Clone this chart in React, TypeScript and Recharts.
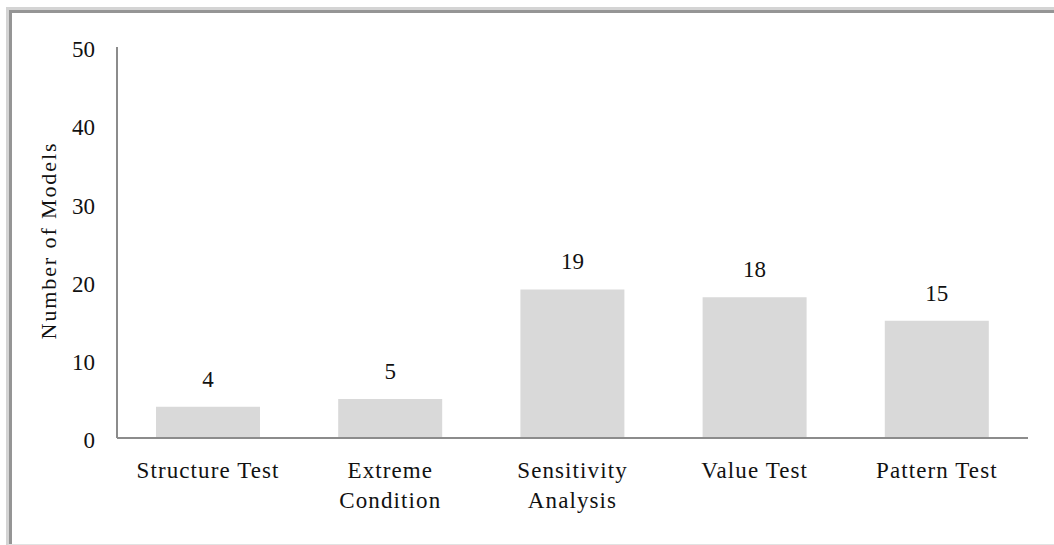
import { Bar, BarChart, LabelList, XAxis, YAxis } from "recharts";

const categories = ["Structure Test", "Extreme\nCondition", "Sensitivity\nAnalysis", "Value Test", "Pattern Test"];
const modelCounts = [4, 5, 19, 18, 15];
const yTicks = [0, 10, 20, 30, 40, 50];

const rows = categories.map((name, i) => ({ name, count: modelCounts[i] }));

const FONT = '"Liberation Serif", "Times New Roman", serif';
const AXIS = "#8c8c8c";

function CategoryTick({ x, y, payload }: { x: number; y: number; payload: { value: string } }) {
  const lines = String(payload.value).split("\n");
  return (
    <text x={x} y={y} textAnchor="middle" fill="#111" fontFamily={FONT} fontSize={23} letterSpacing={1.1}>
      {lines.map((ln, i) => (
        <tspan key={i} x={x} dy={i === 0 ? 40 : 30}>{ln}</tspan>
      ))}
    </text>
  );
}

export default function App() {
  return (
    <div style={{ position: "fixed", left: 0, top: 0, width: 1054, height: 545, background: "#fff", overflow: "hidden" }}>
      {/* picture frame, light then dark band on top/left */}
      <div style={{ position: "absolute", left: 6, top: 7, width: 1070, height: 534, borderLeft: "3px solid #d4d4d4", borderTop: "3px solid #d4d4d4", borderBottom: "2px solid #e2e2e2" }}>
        <div style={{ position: "absolute", left: 0, top: 0, right: 0, bottom: 0, borderLeft: "3px solid #959595", borderTop: "3px solid #959595" }} />
      </div>
      <div style={{ position: "absolute", left: 0, top: 0 }}>
        <BarChart width={1054} height={545} data={rows} margin={{ top: 47, right: 26, left: 57, bottom: 77 }}>
          <XAxis dataKey="name" axisLine={{ stroke: AXIS, strokeWidth: 2 }} tickLine={false} tickSize={0} tickMargin={0}
                 interval={0} tick={(p: any) => <CategoryTick {...p} />} />
          <YAxis domain={[0, 50]} ticks={yTicks} width={60} axisLine={{ stroke: AXIS, strokeWidth: 2 }} tickLine={false}
                 tickSize={0} tickMargin={22} interval={0}
                 tick={{ fill: "#111", fontSize: 23, fontFamily: FONT, dy: 2 }}
                 label={{ value: "Number of Models", angle: -90, position: "insideLeft", dx: -14, dy: -2,
                          style: { fill: "#111", fontSize: 22, fontFamily: FONT, letterSpacing: 1.9, textAnchor: "middle" } }} />
          <Bar dataKey="count" fill="#d9d9d9" barSize={104} isAnimationActive={false}>
            <LabelList dataKey="count" position="top" offset={20} fill="#111" fontSize={23} fontFamily={FONT} />
          </Bar>
        </BarChart>
      </div>
    </div>
  );
}
